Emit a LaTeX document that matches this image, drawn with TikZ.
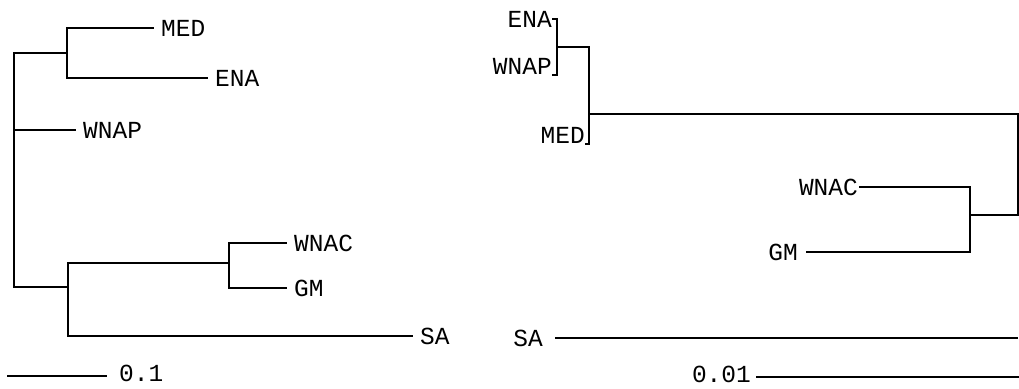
\documentclass[tikz,border=0pt]{standalone}
\usepackage{fontspec}
\newfontfamily\treefont{Liberation Mono}
\tikzset{
  leaf/.style={inner xsep=8pt, inner ysep=0pt, font=\treefont\fontsize{24.5}{26}\selectfont},
  rleaf/.style={inner xsep=1pt, inner ysep=0pt, font=\treefont\fontsize{24.5}{26}\selectfont},
  branch/.style={line width=1.4pt, line cap=rect}
}
\begin{document}
\begin{tikzpicture}[x=1pt,y=-1pt]
  \useasboundingbox (0,0) rectangle (1019,388);
  % 左の樹形図
  \coordinate (lA) at (67,53);
  \coordinate (lroot) at (14,170);
  \coordinate (lB) at (68,287);
  \coordinate (lC) at (229,263);
  \node[leaf,anchor=west] (lMED) at (153,28) {MED};
  \node[leaf,anchor=west] (lENA) at (207,78) {ENA};
  \node[leaf,anchor=west] (lWNAP) at (75,130) {WNAP};
  \node[leaf,anchor=west] (lWNAC) at (286,243) {WNAC};
  \node[leaf,anchor=west] (lGM) at (286,288) {GM};
  \node[leaf,anchor=west] (lSA) at (412,336) {SA};
  \draw[branch] (lA) -| (lroot) |- (lB);
  \draw[branch] (lMED.west) -| (lA) |- (lENA.west);
  \draw[branch] (lWNAP.west) -- (lWNAP.west -| lroot);
  \draw[branch] (lB) |- (lC);
  \draw[branch] (lWNAC.west) -| (lC) |- (lGM.west);
  \draw[branch] (lSA.west) -| (lB);
  % スケール
  \coordinate (lbar) at (7,376);
  \node[leaf,anchor=west,inner xsep=12pt] (lscale) at (107,373) {0.1};
  \draw[branch,line cap=butt] (lbar) -- (lbar -| lscale.west);

  % 右の樹形図
  \coordinate (r1) at (557,47);
  \coordinate (r2) at (589,114);
  \coordinate (r3) at (1018,165);
  \coordinate (r4) at (970,215);
  \node[rleaf,anchor=east] (rENA) at (553,19) {ENA};
  \node[rleaf,anchor=south east] (rWNAP) at (553,75) {WNAP};
  \node[rleaf,anchor=south east] (rMED) at (586,144) {MED};
  \node[rleaf,anchor=east,inner xsep=2pt] (rWNAC) at (860,187) {WNAC};
  \node[rleaf,anchor=east] (rGM) at (799,252) {GM};
  \node[rleaf,anchor=east] (rSA) at (544,338) {SA};
  \draw[branch] (rENA.east) -| (r1) |- (rWNAP.south east);
  \draw[branch] (r1) -| (r2) |- (rMED.south east);
  \draw[branch] (r2) -| (r3) |- (r4);
  \draw[branch] (rWNAC.east) -| (r4) |- ([xshift=8pt]rGM.east);
  \draw[branch,line cap=butt] ([xshift=11pt]rSA.east) -- (rSA.east -| r3);
  % スケール
  \coordinate (rbar) at (1019,377);
  \node[rleaf,anchor=east] (rscale) at (752,374) {0.01};
  \draw[branch,line cap=butt] ([xshift=4pt]rscale.east |- rbar) -- (rbar);
\end{tikzpicture}
\end{document}
